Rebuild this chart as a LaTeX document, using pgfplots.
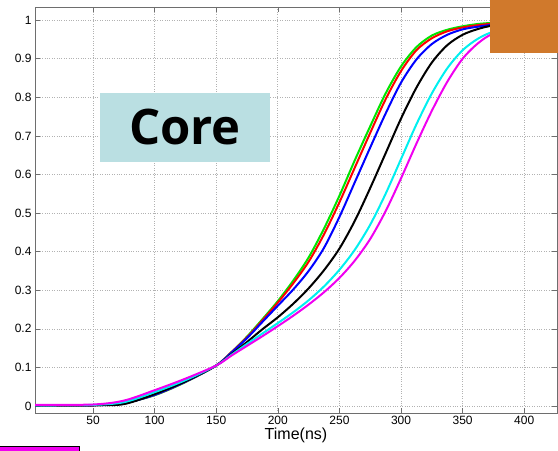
\documentclass[border=0pt]{standalone}
\usepackage{fontspec}
\setmainfont{Liberation Sans}
\newfontfamily\corefont{Open Sans}
\usepackage{pgfplots}
\usepackage{pgfplotstable}
\pgfplotsset{compat=1.18}

\definecolor{mgreen}{RGB}{0,230,0}
\definecolor{mcyan}{RGB}{0,240,240}
\definecolor{mmag}{RGB}{240,0,240}
\definecolor{corebg}{RGB}{186,223,226}
\definecolor{orangebox}{RGB}{208,121,44}
\definecolor{axgray}{RGB}{110,110,110}

% CDF of latency, one column per curve
\pgfplotstableread{
t      g     r     b     k     c     m
3      0.002 0.002 0.002 0.002 0.002 0.003
50     0.002 0.002 0.002 0.002 0.003 0.004
75     0.008 0.008 0.007 0.005 0.010 0.014
100    0.028 0.029 0.029 0.031 0.036 0.041
125    0.062 0.063 0.063 0.064 0.067 0.071
150    0.105 0.105 0.105 0.105 0.105 0.105
162.5  0.140 0.140 0.139 0.135 0.133 0.131
175    0.180 0.178 0.176 0.166 0.161 0.156
187.5  0.225 0.222 0.218 0.199 0.188 0.181
200    0.272 0.268 0.260 0.230 0.215 0.207
212.5  0.325 0.318 0.302 0.265 0.243 0.234
225    0.385 0.374 0.350 0.305 0.274 0.263
237.5  0.460 0.445 0.410 0.352 0.310 0.295
250    0.545 0.528 0.490 0.408 0.353 0.332
262.5  0.637 0.618 0.580 0.480 0.405 0.377
275    0.725 0.708 0.670 0.565 0.470 0.433
287.5  0.810 0.795 0.758 0.655 0.550 0.505
300    0.880 0.868 0.838 0.745 0.640 0.590
312.5  0.930 0.922 0.898 0.825 0.730 0.680
325    0.960 0.953 0.938 0.890 0.810 0.765
337.5  0.975 0.971 0.962 0.935 0.875 0.840
350    0.984 0.981 0.976 0.962 0.922 0.900
362.5  0.990 0.987 0.983 0.977 0.952 0.940
375    0.993 0.991 0.988 0.986 0.970 0.965
400    0.997 0.997 0.995 0.993 0.990 0.985
425    0.999 0.999 0.998 0.997 0.996 0.995
}\cdf

\begin{document}
\begin{tikzpicture}
\begin{axis}[
  scale only axis,width=522pt,height=406pt,
  xmin=2.9,xmax=426.6,ymin=-0.018,ymax=1.034,
  xtick={50,100,...,400},ytick={0,0.1,...,1},
  tick align=inside,major tick length=5pt,
  tick style={axgray,line width=0.6pt},
  axis line style={axgray,line width=0.8pt},
  grid=major,grid style={gray!60,dotted,line width=0.7pt},
  ticklabel style={font=\fontsize{12}{14}\selectfont},
  /pgf/number format/assume math mode=true,
  xlabel={Time(ns)},
  xlabel style={font=\fontsize{16}{18}\selectfont,yshift=4pt},
  every axis plot/.append style={line width=2pt,smooth,tension=0.5,no markers},
  clip=true,
]
\addplot[mgreen] table[x=t,y=g]{\cdf};
\addplot[red] table[x=t,y=r]{\cdf};
\addplot[blue] table[x=t,y=b]{\cdf};
\addplot[black] table[x=t,y=k]{\cdf};
\addplot[mcyan] table[x=t,y=c]{\cdf};
\addplot[mmag] table[x=t,y=m]{\cdf};
\end{axis}
% label box and slide decorations
\fill[corebg] ([shift={(65pt,251pt)}]current axis.south west) rectangle ++(170pt,69pt);
\node[font=\corefont\bfseries\fontsize{49}{50}\selectfont,inner sep=0pt]
  at ([shift={(150pt,286pt)}]current axis.south west) {Core};
\fill[orangebox] ([shift={(455pt,360pt)}]current axis.south west) rectangle ++(80pt,70pt);
\filldraw[fill=mmag,draw=black,line width=1pt] ([shift={(-40pt,-44pt)}]current axis.south west) rectangle ([shift={(45pt,-33.5pt)}]current axis.south west);
\pgfresetboundingbox
\useasboundingbox ([shift={(-35pt,-38pt)}]current axis.south west) rectangle ([shift={(1pt,7pt)}]current axis.north east);
\end{tikzpicture}
\end{document}
